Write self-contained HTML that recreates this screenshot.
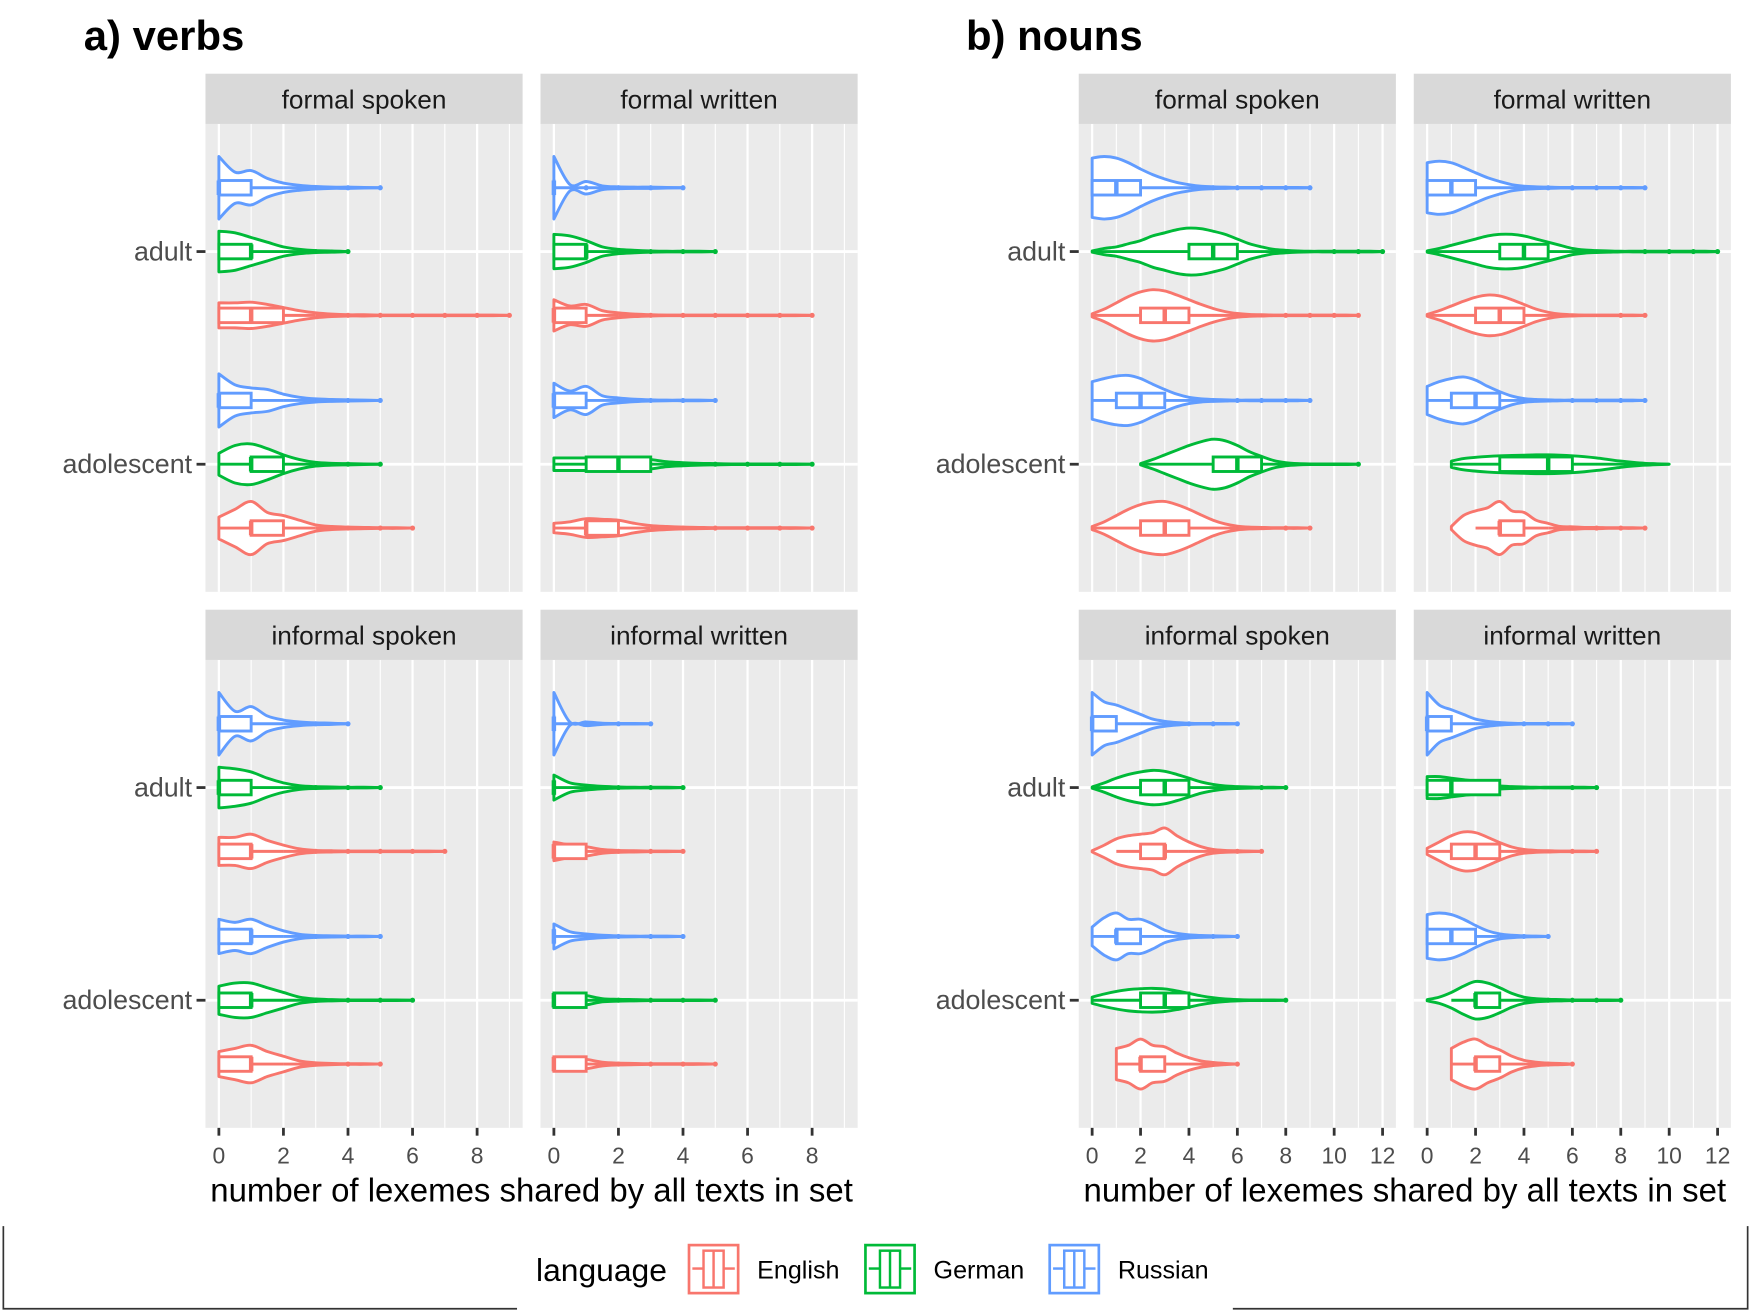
<!DOCTYPE html>
<html><head><meta charset="utf-8"><title>Violin plots</title>
<style>
html,body{margin:0;padding:0;background:#fff;}
svg{display:block;}
text{font-family:"Liberation Sans",sans-serif;}
</style></head>
<body>
<svg id="chart" width="1751" height="1314" viewBox="0 0 1568 1176.7" preserveAspectRatio="none" xmlns="http://www.w3.org/2000/svg">
<g id="root"></g>
</svg>
<script>
// ---- data ----
const languages = ["Russian","German","English"];
const ageGroups = ["adult","adolescent"];
const panelTitles = ["formal spoken","formal written","informal spoken","informal written"];
const verbTicks = [0,2,4,6,8];
const nounTicks = [0,2,4,6,8,10,12];
// each violin: [min, max, widths at 0.5 steps, q1, median, q3, whiskerLo, whiskerHi]
const verbsFS = [
 [0,5,[1.0,0.5,0.55,0.3,0.15,0.08,0.04,0.02,0.02,0.01,0.01],0,0,1,0,2],
 [0,4,[0.65,0.6,0.45,0.3,0.15,0.07,0.03,0.02,0.01],0,1,1,0,2],
 [0,9,[0.4,0.4,0.42,0.35,0.25,0.15,0.08,0.04,0.02,0.02,0.01,0.01,0.01,0.01,0.01,0.01,0.01,0.01,0.01],0,1,2,0,3],
 [0,5,[0.85,0.5,0.4,0.35,0.2,0.1,0.05,0.03,0.02,0.01,0.01],0,0,1,0,2],
 [0,5,[0.35,0.6,0.65,0.5,0.3,0.15,0.06,0.03,0.02,0.01,0.01],1,1,2,0,3],
 [0,6,[0.35,0.6,0.85,0.5,0.4,0.25,0.1,0.05,0.03,0.02,0.01,0.01,0.01],1,1,2,0,3]
];
const verbsFW = [
 [0,4,[1.0,0.1,0.2,0.06,0.03,0.02,0.02,0.01,0.01],0,0,0,0,0],
 [0,5,[0.55,0.5,0.35,0.15,0.07,0.04,0.02,0.01,0.01,0.01,0.01],0,1,1,0,2],
 [0,8,[0.5,0.3,0.35,0.15,0.08,0.04,0.02,0.01,0.01,0.01,0.01,0.01,0.01,0.01,0.01,0.01,0.01],0,0,1,0,2],
 [0,5,[0.55,0.3,0.45,0.15,0.08,0.04,0.02,0.01,0.01,0.01,0.01],0,0,1,0,2],
 [0,8,[0.2,0.2,0.2,0.2,0.22,0.2,0.15,0.08,0.05,0.03,0.02,0.01,0.01,0.01,0.01,0.01,0.01],1,2,3,0,4],
 [0,8,[0.15,0.2,0.3,0.28,0.25,0.15,0.08,0.05,0.03,0.02,0.01,0.01,0.01,0.01,0.01,0.01,0.01],1,1,2,0,3]
];
const verbsIS = [
 [0,4,[1.0,0.4,0.55,0.25,0.12,0.06,0.03,0.02,0.01],0,0,1,0,2],
 [0,5,[0.65,0.6,0.5,0.3,0.15,0.06,0.03,0.02,0.01,0.01,0.01],0,0,1,0,2],
 [0,7,[0.45,0.45,0.55,0.35,0.2,0.08,0.03,0.02,0.01,0.01,0.01,0.01,0.01,0.01,0.01],0,1,1,0,2],
 [0,5,[0.55,0.45,0.55,0.35,0.18,0.07,0.03,0.02,0.01,0.01,0.01],0,1,1,0,2],
 [0,6,[0.45,0.55,0.55,0.4,0.25,0.1,0.04,0.02,0.01,0.01,0.01,0.01,0.01],0,1,1,0,2],
 [0,5,[0.4,0.5,0.6,0.4,0.25,0.1,0.04,0.02,0.01,0.01,0.01],0,1,1,0,2]
];
const verbsIW = [
 [0,3,[1.0,0.05,0.06,0.02,0.01,0.01,0.01],0,0,0,0,0],
 [0,4,[0.4,0.15,0.08,0.04,0.02,0.01,0.01,0.01,0.01],0,0,0,0,0],
 [0,4,[0.3,0.2,0.15,0.06,0.03,0.02,0.01,0.01,0.01],0,0,1,0,1],
 [0,4,[0.4,0.15,0.08,0.04,0.02,0.01,0.01,0.01,0.01],0,0,0,0,0],
 [0,5,[0.2,0.2,0.15,0.05,0.03,0.02,0.01,0.01,0.01,0.01,0.01],0,0,1,0,1],
 [0,5,[0.2,0.2,0.15,0.06,0.03,0.02,0.01,0.01,0.01,0.01,0.01],0,0,1,0,1]
];
const nounsFS = [
 [0,9,[0.95,1.0,0.95,0.8,0.6,0.42,0.28,0.17,0.1,0.05,0.03,0.02,0.01,0.01,0.01,0.01,0.01,0.01,0.01],0,1,2,0,4],
 [0,12,[0.02,0.1,0.15,0.25,0.35,0.5,0.6,0.7,0.75,0.73,0.65,0.55,0.4,0.25,0.15,0.07,0.04,0.02,0.01,0.01,0.01,0.01,0.01,0.01,0.01],4,5,6,0,9],
 [0,11,[0.05,0.2,0.4,0.6,0.75,0.82,0.78,0.65,0.5,0.35,0.22,0.12,0.06,0.03,0.02,0.01,0.01,0.01,0.01,0.01,0.01,0.01,0.01],2,3,4,0,7],
 [0,9,[0.6,0.7,0.78,0.8,0.7,0.52,0.35,0.2,0.1,0.05,0.03,0.02,0.01,0.01,0.01,0.01,0.01,0.01,0.01],1,2,3,0,5],
 [2,11,[0.02,0.15,0.3,0.45,0.6,0.72,0.8,0.75,0.6,0.4,0.25,0.12,0.05,0.02,0.01,0.01,0.01,0.01,0.01],5,6,7,2,10],
 [0,9,[0.05,0.2,0.4,0.6,0.75,0.83,0.85,0.75,0.6,0.42,0.25,0.13,0.06,0.03,0.02,0.01,0.01,0.01,0.01],2,3,4,0,7]
];
const nounsFW = [
 [0,9,[0.8,0.85,0.8,0.65,0.48,0.32,0.2,0.1,0.05,0.03,0.02,0.01,0.01,0.01,0.01,0.01,0.01,0.01,0.01],0,1,2,0,4],
 [0,12,[0.02,0.1,0.2,0.3,0.4,0.5,0.55,0.55,0.5,0.4,0.3,0.2,0.1,0.05,0.03,0.02,0.01,0.01,0.01,0.01,0.01,0.01,0.01,0.01,0.01],3,4,5,0,8],
 [0,9,[0.03,0.15,0.3,0.45,0.58,0.65,0.62,0.5,0.35,0.2,0.1,0.04,0.02,0.01,0.01,0.01,0.01,0.01,0.01],2,3,4,0,7],
 [0,9,[0.45,0.6,0.7,0.75,0.65,0.45,0.28,0.14,0.06,0.03,0.02,0.01,0.01,0.01,0.01,0.01,0.01,0.01,0.01],1,2,3,0,5],
 [1,10,[0.1,0.18,0.22,0.25,0.27,0.28,0.29,0.3,0.3,0.29,0.27,0.24,0.2,0.15,0.1,0.06,0.03,0.015,0.005],3,5,6,1,10],
 [1,9,[0.05,0.4,0.55,0.65,0.85,0.55,0.5,0.25,0.15,0.05,0.04,0.02,0.02,0.01,0.01,0.01,0.01],3,3,4,2,5]
];
const nounsIS = [
 [0,6,[1.0,0.7,0.6,0.45,0.3,0.15,0.08,0.04,0.02,0.01,0.01,0.01,0.01],0,0,1,0,2],
 [0,8,[0.02,0.15,0.3,0.42,0.5,0.55,0.52,0.42,0.3,0.18,0.1,0.05,0.03,0.02,0.01,0.01,0.01],2,3,4,0,6],
 [0,7,[0.02,0.2,0.4,0.5,0.55,0.6,0.75,0.5,0.3,0.15,0.06,0.03,0.02,0.01,0.01],2,3,3,1,4],
 [0,6,[0.3,0.6,0.75,0.55,0.55,0.4,0.2,0.1,0.05,0.03,0.02,0.01,0.01],1,1,2,0,3],
 [0,8,[0.1,0.2,0.28,0.34,0.37,0.38,0.36,0.3,0.22,0.14,0.08,0.04,0.02,0.01,0.01,0.01,0.01],2,3,4,0,7],
 [1,6,[0.5,0.6,0.8,0.6,0.55,0.35,0.2,0.1,0.05,0.02,0.01],2,2,3,1,4]
];
const nounsIW = [
 [0,6,[1.0,0.6,0.45,0.3,0.15,0.08,0.04,0.02,0.01,0.01,0.01,0.01,0.01],0,0,1,0,2],
 [0,7,[0.35,0.35,0.3,0.25,0.2,0.1,0.05,0.03,0.02,0.01,0.01,0.01,0.01,0.01,0.01],0,1,3,0,5],
 [0,7,[0.1,0.3,0.5,0.62,0.6,0.45,0.28,0.14,0.06,0.03,0.02,0.01,0.01,0.01,0.01],1,2,3,0,5],
 [0,5,[0.7,0.75,0.7,0.55,0.35,0.18,0.08,0.04,0.02,0.01,0.01],0,1,2,0,3],
 [0,8,[0.02,0.1,0.25,0.45,0.6,0.55,0.4,0.22,0.1,0.05,0.03,0.02,0.01,0.01,0.01,0.01,0.01],2,2,3,1,4],
 [1,6,[0.5,0.7,0.8,0.6,0.45,0.25,0.12,0.06,0.03,0.02,0.01],2,2,3,1,4]
];

// ---- drawing ----
const NS = "http://www.w3.org/2000/svg";
const root = document.getElementById('root');
const colors = {Russian:"#619CFF", German:"#00BA38", English:"#F8766D"};
function el(tag, attrs, parent){
  const e = document.createElementNS(NS, tag);
  for (const k in attrs) e.setAttribute(k, attrs[k]);
  (parent||root).appendChild(e);
  return e;
}
function txt(s, attrs, parent){ const t = el('text', attrs, parent); t.textContent = s; return t; }

function catmull(pts){
  let d = "";
  for (let i=0;i<pts.length-1;i++){
    const p0=pts[Math.max(0,i-1)], p1=pts[i], p2=pts[i+1], p3=pts[Math.min(pts.length-1,i+2)];
    const c1x=p1[0]+(p2[0]-p0[0])/6, c1y=p1[1]+(p2[1]-p0[1])/6;
    const c2x=p2[0]-(p3[0]-p1[0])/6, c2y=p2[1]-(p3[1]-p1[1])/6;
    d += ` C${c1x.toFixed(2)},${c1y.toFixed(2)} ${c2x.toFixed(2)},${c2y.toFixed(2)} ${p2[0].toFixed(2)},${p2[1].toFixed(2)}`;
  }
  return d;
}

function drawPanel(px, py, pw, ph, title, xmin, xmax, data, ticks, showY, showX, g){
  const xs = v => px + (v - xmin)/(xmax - xmin)*pw;
  const yTop = py + 45, yBot = py + ph;
  const catY = c => yTop + (2.6 - c)/2.2*(yBot - yTop);
  const strip = el('rect',{x:px,y:py,width:pw,height:45,fill:'#D9D9D9'},g);
  
  
  const st = txt(title,{x:px+pw/2,y:py+31,'text-anchor':'middle','font-size':23.5,fill:'#1A1A1A'},g);
  
  
  const bg = el('rect',{x:px,y:yTop,width:pw,height:yBot-yTop,fill:'#EBEBEB'},g);
  
  
  for (let v=Math.ceil(xmin); v<=xmax; v++){
    const major = ticks.includes(v);
    const gl = el('line',{x1:xs(v),x2:xs(v),y1:yTop,y2:yBot,stroke:'#fff','stroke-width':major?2:1},g);
    
    
  }
  [2,1].forEach((c,ci)=>{
    const hl = el('line',{x1:px,x2:px+pw,y1:catY(c),y2:catY(c),stroke:'#fff','stroke-width':2.5},g);
    
    
    if (showY){
      const tk = el('line',{x1:px-8,x2:px,y1:catY(c),y2:catY(c),stroke:'#333','stroke-width':2.5},g);
      
      
      const lb = txt(ageGroups[ci],{x:px-12,y:catY(c)+8,'text-anchor':'end','font-size':24,fill:'#4D4D4D'},g);
      
      
    }
  });
  if (showX){
    ticks.forEach(v=>{
      const tk = el('line',{x1:xs(v),x2:xs(v),y1:yBot,y2:yBot+7,stroke:'#333','stroke-width':2.5},g);
      
      
      const lb = txt(String(v),{x:xs(v),y:yBot+32,'text-anchor':'middle','font-size':20.5,fill:'#4D4D4D'},g);
      
      
    });
  }
  const unit = (yBot-yTop)/2.2;
  const maxW = 28;
  data.forEach((d,i)=>{
    const age = i<3 ? 2 : 1;
    const lang = languages[i%3];
    const offset = [-0.3,0,0.3][i%3];
    const cy = catY(age) + offset*unit;
    const col = colors[lang];
    const [mn,mx,w,q1,med,q3,wl,wh] = d;
    const up=[], lo=[];
    w.forEach((wv,k)=>{ const xv = mn + k*0.5; up.push([xs(xv), cy - wv*maxW]); lo.push([xs(xv), cy + wv*maxW]); });
    up[up.length-1][1] = cy; lo[lo.length-1][1] = cy;
    const lor = lo.slice().reverse();
    let path = `M${xs(mn)},${cy} L${up[0][0]},${up[0][1]}` + catmull(up) + catmull(lor) + ' Z';
    const vg = el('g',{},g);
    
    
    el('path',{d:path,fill:'#fff',stroke:col,'stroke-width':2.6,'stroke-linejoin':'round'},vg);
    el('line',{x1:xs(wl),x2:xs(q1),y1:cy,y2:cy,stroke:col,'stroke-width':2.6},vg);
    el('line',{x1:xs(q3),x2:xs(wh),y1:cy,y2:cy,stroke:col,'stroke-width':2.6},vg);
    for (let o=Math.floor(wh)+1; o<=mx; o++){
      el('line',{x1:xs(o-1 < wh ? wh : o-1),x2:xs(o),y1:cy,y2:cy,stroke:col,'stroke-width':2.6},vg);
      el('circle',{cx:xs(o),cy:cy,r:2.3,fill:col},vg);
    }
    const bh = 6.5;
    el('rect',{x:xs(q1),y:cy-bh,width:Math.max(xs(q3)-xs(q1),0.01),height:bh*2,fill:'#fff',stroke:col,'stroke-width':2.6},vg);
    el('line',{x1:xs(med),x2:xs(med),y1:cy-bh,y2:cy+bh,stroke:col,'stroke-width':4},vg);
  });
}

const t1 = txt("a) verbs",{x:75,y:45,'font-size':37.5,'font-weight':'bold',fill:'#000'});


const t2 = txt("b) nouns",{x:865,y:45,'font-size':37.5,'font-weight':'bold',fill:'#000'});



const vXmin = -12/28.9, vXmax = 9.41;
const nXmin = -12/21.67, nXmax = 12.55;
const gV = el('g',{});  
const gN = el('g',{});  
drawPanel(184,66,284,464,panelTitles[0],vXmin,vXmax,verbsFS,verbTicks,true,false,gV);
drawPanel(484,66,284,464,panelTitles[1],vXmin,vXmax,verbsFW,verbTicks,false,false,gV);
drawPanel(184,546,284,464,panelTitles[2],vXmin,vXmax,verbsIS,verbTicks,true,true,gV);
drawPanel(484,546,284,464,panelTitles[3],vXmin,vXmax,verbsIW,verbTicks,false,true,gV);
drawPanel(966,66,284,464,panelTitles[0],nXmin,nXmax,nounsFS,nounTicks,true,false,gN);
drawPanel(1266,66,284,464,panelTitles[1],nXmin,nXmax,nounsFW,nounTicks,false,false,gN);
drawPanel(966,546,284,464,panelTitles[2],nXmin,nXmax,nounsIS,nounTicks,true,true,gN);
drawPanel(1266,546,284,464,panelTitles[3],nXmin,nXmax,nounsIW,nounTicks,false,true,gN);

const xa1 = txt("number of lexemes shared by all texts in set",{x:476,y:1076,'text-anchor':'middle','font-size':29.5,fill:'#000'});


const xa2 = txt("number of lexemes shared by all texts in set",{x:1258,y:1076,'text-anchor':'middle','font-size':29.5,fill:'#000'});



const fr = el('path',{d:'M3,1098 L3,1172 L463,1172 M1104,1172 L1565,1172 L1565,1098',fill:'none',stroke:'#333','stroke-width':1.5});



const lg = el('g',{});  
const lt = txt("language",{x:480,y:1147,'font-size':28.5,fill:'#000'},lg);


const legItems = [["English",616],["German",774],["Russian",939]];
legItems.forEach(([name,x0])=>{
  const e = el('g',{},lg);
  
  
  const c = colors[name];
  el('rect',{x:x0+1,y:1115,width:44,height:43,fill:'#fff',stroke:c,'stroke-width':2.4},e);
  el('rect',{x:x0+14,y:1120,width:18,height:33,fill:'#fff',stroke:c,'stroke-width':2.2},e);
  el('line',{x1:x0+23,x2:x0+23,y1:1120,y2:1153,stroke:c,'stroke-width':2.2},e);
  el('line',{x1:x0+4,x2:x0+14,y1:1136,y2:1136,stroke:c,'stroke-width':2.2},e);
  el('line',{x1:x0+32,x2:x0+42,y1:1136,y2:1136,stroke:c,'stroke-width':2.2},e);
  const tl = txt(name,{x:x0+62,y:1145,'font-size':22.5,fill:'#000'},e);
  
  
});
</script>
</body></html>
